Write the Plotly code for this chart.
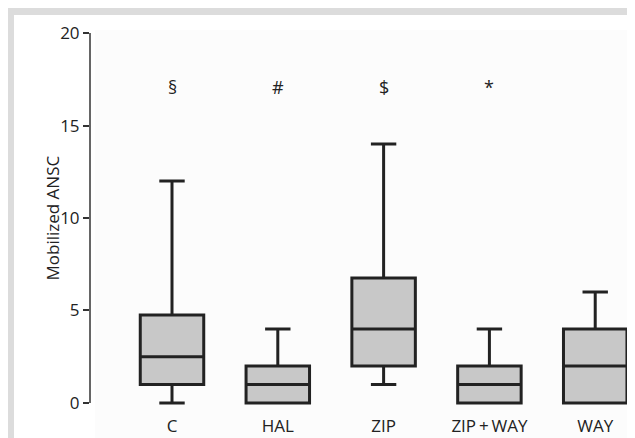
import plotly.graph_objects as go

categories = ["C", "HAL", "ZIP", "ZIP\u2009+\u2009WAY", "WAY"]
lower = [0, 0, 1, 0, 0]
q1 = [1, 0, 2, 0, 0]
median = [2.5, 1, 4, 1, 2]
q3 = [4.75, 2, 6.75, 2, 4]
upper = [12, 4, 14, 4, 6]
markers = ["§", "#", "$", "*", ""]
y_ticks = [0, 5, 10, 15, 20]

# page has an 8px body margin; work in page pixels and convert
OFF = 8
W_FIG, H_FIG = 635, 438
PL, PR, PT, PB = 90, 635, 22, 414   # plot area in page pixels
ML, MR, MT, MB = PL - OFF, W_FIG - (PR - OFF), PT - OFF, H_FIG - (PB - OFF)
PW, PH = PR - PL, PB - PT

def px(x):
    return (x - PL) / PW

def py(y):
    return (PB - y) / PH

xs = list(range(len(categories)))
FONT = "Open Sans"
WT = 500

fig = go.Figure()
fig.add_trace(go.Box(
    x=xs, q1=q1, median=median, q3=q3,
    lowerfence=lower, upperfence=upper,
    width=0.6, whiskerwidth=0.4,
    fillcolor="#c8c8c8",
    line=dict(color="#222222", width=3),
    boxpoints=False, hoverinfo="skip", showlegend=False,
))

for i, m in enumerate(markers):
    if m:
        fig.add_annotation(x=xs[i], y=17.1, text=m, showarrow=False,
                           font=dict(family=FONT, size=18, color="#222", weight=WT))

fig.add_annotation(xref="paper", yref="y", x=px(38), y=10, text="Mobilized ANSC",
                   textangle=-90, showarrow=False,
                   font=dict(family=FONT, size=17, color="#222", weight=WT))

shapes = [
    dict(type="rect", xref="paper", yref="paper", x0=px(95), x1=px(629), y0=py(446), y1=py(30),
         fillcolor="#fcfcfc", line=dict(width=0), layer="below"),
    dict(type="rect", xref="paper", yref="paper", x0=px(7), x1=px(643), y0=py(15), y1=py(8),
         fillcolor="#dcdcdc", line=dict(width=0), layer="below"),
    dict(type="rect", xref="paper", yref="paper", x0=px(7), x1=px(14), y0=py(446), y1=py(8),
         fillcolor="#dcdcdc", line=dict(width=0), layer="below"),
    dict(type="line", xref="paper", yref="y", x0=0, x1=0, y0=0, y1=20,
         line=dict(color="#333", width=1.5)),
]

fig.update_layout(
    width=W_FIG, height=H_FIG,
    margin=dict(l=ML, r=MR, t=MT, b=MB),
    paper_bgcolor="white", plot_bgcolor="rgba(0,0,0,0)",
    shapes=shapes,
    font=dict(family=FONT, color="#222"),
    xaxis=dict(range=[-0.775, 4.376], tickmode="array", tickvals=xs, ticktext=categories,
               showgrid=False, zeroline=False, showline=False, ticks="",
               tickfont=dict(family=FONT, size=17, color="#222", weight=WT)),
    yaxis=dict(range=[-0.6, 20.6], tickmode="array", tickvals=y_ticks,
               showgrid=False, zeroline=False, showline=False,
               ticks="outside", ticklen=6, tickwidth=1.5, tickcolor="#333",
               tickfont=dict(family=FONT, size=17, color="#222", weight=WT)),
)

fig.write_html("out.html")
